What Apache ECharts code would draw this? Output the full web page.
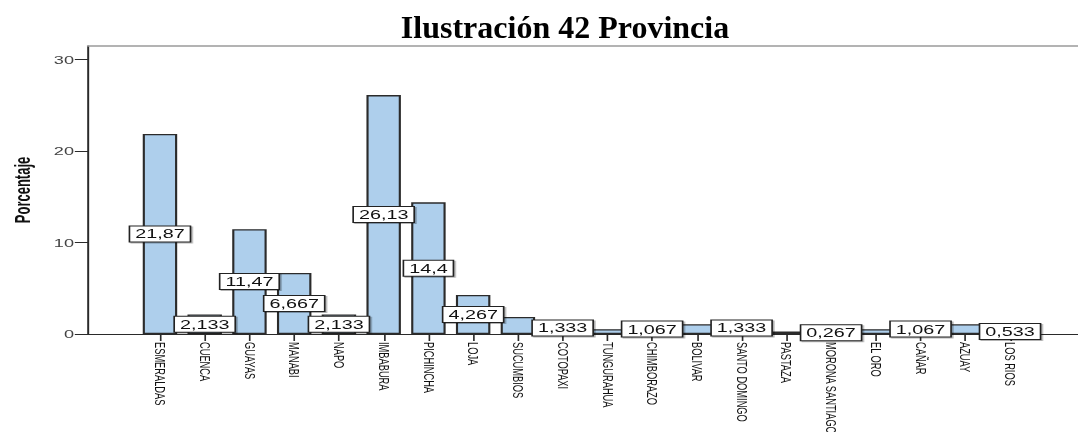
<!DOCTYPE html>
<html>
<head>
<meta charset="utf-8">
<script src="https://cdn.jsdelivr.net/npm/echarts@6/dist/echarts.min.js"></script>
<style>
  html, body { margin: 0; padding: 0; background: #fff; overflow: hidden; }
  #wrap { width: 1078px; height: 432px; overflow: hidden; }
  #chart { width: 654px; height: 432px; transform-origin: 0 0; }
</style>
</head>
<body>
<div id="wrap"><div id="chart"></div></div>
<script>
// Provinces and their share of respondents (%)
const categories = ['ESMERALDAS', 'CUENCA', 'GUAYAS', 'MANABI', 'NAPO', 'IMBABURA', 'PICHINCHA',
  'LOJA', 'SUCUMBIOS', 'COTOPAXI', 'TUNGURAHUA', 'CHIMBORAZO', 'BOLIVAR', 'SANTO DOMINGO',
  'PASTAZA', 'MORONA SANTIAGO', 'EL ORO', 'CAÑAR', 'AZUAY', 'LOS RIOS'];
const values = [21.87, 2.133, 11.47, 6.667, 2.133, 26.13, 14.4,
  4.267, 1.867, 1.333, 0.533, 1.067, 1.067, 1.333,
  0.267, 0.267, 0.533, 1.067, 1.067, 0.533];
// Bars whose value box is left out
const unlabeled = ['SUCUMBIOS', 'TUNGURAHUA', 'BOLIVAR', 'PASTAZA', 'EL ORO', 'AZUAY'];
const yTicks = [0, 10, 20, 30];
const titleText = 'Ilustración 42 Provincia';
const yName = 'Porcentaje';

// The chart canvas is laid out narrow and widened horizontally
const W = 654;
const SX = 1078 / W;
const el = document.getElementById('chart');
el.style.transform = 'scaleX(' + SX + ')';

const chart = echarts.init(el, null, { renderer: 'svg' });

const fmt = v => String(v).replace('.', ',');

const option = {
  backgroundColor: '#fff',
  animation: false,
  graphic: [{
    type: 'text',
    x: 565 / SX,
    y: 11,
    scaleX: 1 / SX,
    style: {
      text: titleText,
      font: 'bold 32px "Liberation Serif", "Times New Roman", serif',
      fill: '#000',
      align: 'center',
      verticalAlign: 'top'
    }
  }],
  grid: [
    { left: 88 / SX, right: 0, top: 46, bottom: 98, outerBoundsMode: 'none' },
    { left: 137.6 / SX, right: W - 1032.4 / SX, top: 46, bottom: 98, outerBoundsMode: 'none' }
  ],
  xAxis: [
    {
      gridIndex: 0, type: 'value', min: 0, max: 1, position: 'bottom',
      axisLine: { show: true, onZero: false, lineStyle: { color: '#2a2a2a', width: 1 } },
      axisTick: { show: false }, axisLabel: { show: false }, splitLine: { show: false }
    },
    {
      gridIndex: 0, type: 'value', min: 0, max: 1, position: 'top',
      axisLine: { show: true, onZero: false, lineStyle: { color: '#9a9a9a', width: 1.5 } },
      axisTick: { show: false }, axisLabel: { show: false }, splitLine: { show: false }
    },
    {
      gridIndex: 1, type: 'category', data: categories,
      axisLine: { show: false },
      axisTick: { show: true, alignWithLabel: true, length: 7, lineStyle: { color: '#2a2a2a', width: 1 } },
      axisLabel: {
        interval: 0, rotate: -90, margin: 8,
        fontSize: 9.3, color: '#111', fontFamily: '"Liberation Sans", Arial, sans-serif'
      },
      splitLine: { show: false }
    }
  ],
  yAxis: [
    {
      gridIndex: 0, type: 'value', min: 0, max: 31.5,
      axisLine: { show: true, onZero: false, lineStyle: { color: '#2a2a2a', width: 1.2 } },
      axisTick: { show: true, length: 8, customValues: yTicks, lineStyle: { color: '#2a2a2a', width: 1 } },
      axisLabel: {
        customValues: yTicks, margin: 8.5, fontSize: 11, color: '#444',
        fontFamily: '"Liberation Sans", Arial, sans-serif'
      },
      splitLine: { show: false },
      name: yName, nameLocation: 'middle', nameGap: 33, nameRotate: 90,
      nameTextStyle: {
        fontWeight: 'bold', fontSize: 13, color: '#111',
        fontFamily: '"Liberation Sans", Arial, sans-serif'
      }
    },
    { gridIndex: 1, type: 'value', min: 0, max: 31.5, show: false }
  ],
  series: [{
    type: 'bar',
    xAxisIndex: 2,
    yAxisIndex: 1,
    barWidth: '77%',
    data: values.map((v, i) => ({
      value: v,
      label: { show: unlabeled.indexOf(categories[i]) < 0 }
    })),
    itemStyle: { color: '#aecfec', borderColor: '#2b2b2b', borderWidth: 1.3 },
    label: {
      show: true,
      position: 'inside',
      formatter: p => fmt(p.value),
      fontSize: 12,
      lineHeight: 12,
      color: '#111',
      fontFamily: '"Liberation Sans", Arial, sans-serif',
      backgroundColor: '#fff',
      borderColor: '#222',
      borderWidth: 1,
      padding: [2, 3, 1, 3],
      shadowColor: 'rgba(0,0,0,0.3)',
      shadowOffsetX: 1,
      shadowOffsetY: 1,
      shadowBlur: 0
    }
  }]
};

chart.setOption(option);
</script>
</body>
</html>
